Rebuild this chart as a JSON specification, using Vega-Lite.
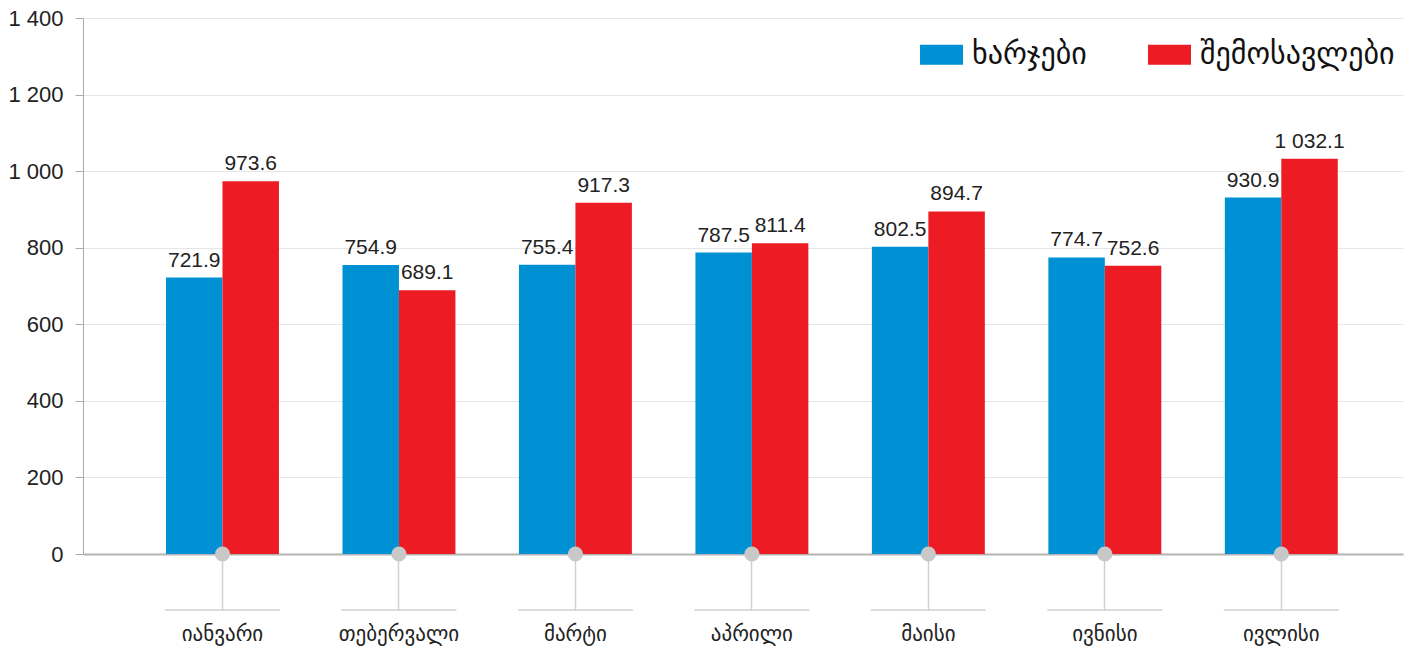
{
  "$schema": "https://vega.github.io/schema/vega-lite/v6.json",
  "width": 1320,
  "height": 536,
  "autosize": {"type": "none"},
  "padding": {"left": 83, "top": 18, "right": 16, "bottom": 95},
  "background": "white",
  "config": {
    "locale": {"number": {"decimal": ".", "thousands": " ", "grouping": [3], "currency": ["", ""]}},
    "view": {"stroke": null},
    "font": "Liberation Sans"
  },
  "data": {
    "values": [
      {"month": "იანვარი", "series": "ხარჯები", "value": 721.9},
      {"month": "იანვარი", "series": "შემოსავლები", "value": 973.6},
      {"month": "თებერვალი", "series": "ხარჯები", "value": 754.9},
      {"month": "თებერვალი", "series": "შემოსავლები", "value": 689.1},
      {"month": "მარტი", "series": "ხარჯები", "value": 755.4},
      {"month": "მარტი", "series": "შემოსავლები", "value": 917.3},
      {"month": "აპრილი", "series": "ხარჯები", "value": 787.5},
      {"month": "აპრილი", "series": "შემოსავლები", "value": 811.4},
      {"month": "მაისი", "series": "ხარჯები", "value": 802.5},
      {"month": "მაისი", "series": "შემოსავლები", "value": 894.7},
      {"month": "ივნისი", "series": "ხარჯები", "value": 774.7},
      {"month": "ივნისი", "series": "შემოსავლები", "value": 752.6},
      {"month": "ივლისი", "series": "ხარჯები", "value": 930.9},
      {"month": "ივლისი", "series": "შემოსავლები", "value": 1032.1}
    ]
  },
  "encoding": {
    "x": {
      "field": "month",
      "type": "nominal",
      "sort": ["იანვარი", "თებერვალი", "მარტი", "აპრილი", "მაისი", "ივნისი", "ივლისი"],
      "scale": {"paddingInner": 0.36, "paddingOuter": 0.42, "align": 0.56},
      "axis": {
        "title": null,
        "labelAngle": 0,
        "domainColor": "#b3b3b3",
        "domainWidth": 2,
        "tickColor": "#d0d0d0",
        "tickSize": 56,
        "tickWidth": 1.5,
        "labelPadding": 13,
        "labelFontSize": 21,
        "labelFont": "DejaVu Sans",
        "labelColor": "#222222"
      }
    }
  },
  "layer": [
    {
      "mark": {"type": "bar"},
      "encoding": {
        "xOffset": {"field": "series", "type": "nominal", "sort": ["ხარჯები", "შემოსავლები"], "scale": {"paddingInner": 0, "paddingOuter": 0}},
        "y": {
          "field": "value",
          "type": "quantitative",
          "scale": {"domain": [0, 1400], "nice": false},
          "axis": {
            "title": null,
            "values": [0, 200, 400, 600, 800, 1000, 1200, 1400],
            "format": ",.0f",
            "grid": true,
            "gridColor": "#e6e6e6",
            "domainColor": "#aaaaaa",
            "tickColor": "#aaaaaa",
            "tickSize": 8,
            "labelPadding": 12,
            "labelFontSize": 22,
            "labelColor": "#222222"
          }
        },
        "color": {
          "field": "series",
          "type": "nominal",
          "scale": {"domain": ["ხარჯები", "შემოსავლები"], "range": ["#0091d5", "#ed1c24"]},
          "legend": {
            "title": null,
            "orient": "none",
            "legendX": 837,
            "legendY": 15,
            "direction": "horizontal",
            "symbolType": "M-1,-0.465H1V0.465H-1Z",
            "symbolSize": 1849,
            "symbolStrokeWidth": 0,
            "labelFontSize": 30,
            "labelFont": "DejaVu Sans",
            "labelColor": "#111111",
            "labelOffset": 9,
            "columnPadding": 61,
            "labelLimit": 400
          }
        }
      }
    },
    {
      "mark": {"type": "text", "baseline": "alphabetic", "dy": -11, "fontSize": 21, "color": "#222222"},
      "encoding": {
        "xOffset": {"field": "series", "type": "nominal", "sort": ["ხარჯები", "შემოსავლები"]},
        "y": {"field": "value", "type": "quantitative"},
        "text": {"field": "value", "type": "quantitative", "format": ",.1f"}
      }
    },
    {
      "transform": [{"filter": "datum.series === 'ხარჯები'"}],
      "mark": {"type": "tick", "orient": "horizontal", "size": 115, "thickness": 1.5, "color": "#d0d0d0", "opacity": 1},
      "encoding": {
        "y": {"datum": -146, "type": "quantitative"}
      }
    },
    {
      "transform": [{"filter": "datum.series === 'ხარჯები'"}],
      "mark": {"type": "point", "filled": true, "size": 230, "color": "#c8c8c8", "opacity": 1},
      "encoding": {
        "y": {"datum": 0, "type": "quantitative"}
      }
    }
  ]
}
